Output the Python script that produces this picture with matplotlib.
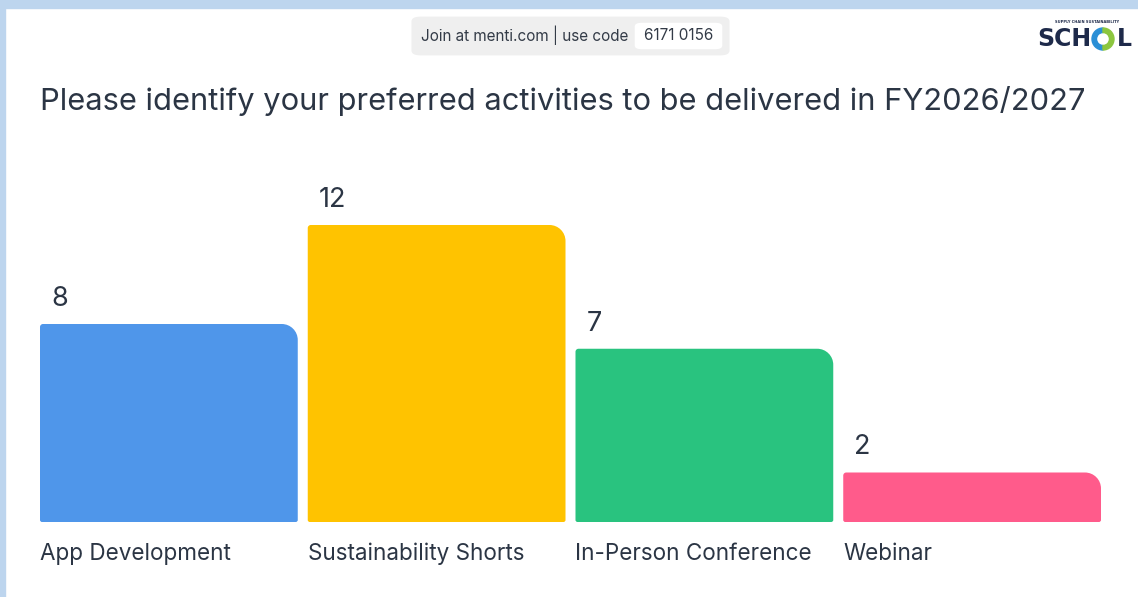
import matplotlib
matplotlib.use("Agg")
import matplotlib.pyplot as plt
from matplotlib.path import Path
from matplotlib.patches import PathPatch, FancyBboxPatch, Rectangle, Wedge

plt.rcParams['font.family'] = ['Inter', 'DejaVu Sans']

# data
categories = ["App Development", "Sustainability Shorts", "In-Person Conference", "Webinar"]
votes = [8, 12, 7, 2]
colors = ["#4f96ea", "#ffc300", "#29c37f", "#ff5b8b"]
title = "Please identify your preferred activities to be delivered in FY2026/2027"
join_text = "Join at menti.com | use code"
code_text = "6171 0156"

W, H = 1138, 597
fig = plt.figure(figsize=(W / 100, H / 100), dpi=100)
fig.patch.set_facecolor("white")


def fx(px):
    return px / W


def fy(py):
    return 1 - py / H


# light blue frame (top and left)
fig.patches.append(Rectangle((0, fy(8)), 1, 8 / H, transform=fig.transFigure,
                             color="#bdd5ee", zorder=0))
fig.patches.append(Rectangle((0, 0), fx(5), 1, transform=fig.transFigure,
                             color="#bdd5ee", zorder=0))

# header pill
fig.patches.append(FancyBboxPatch((fx(416), fy(53)), fx(309), 34 / H,
                                  boxstyle="round,pad=0.004,rounding_size=0.008",
                                  transform=fig.transFigure, fc="#efefef", ec="none"))
fig.patches.append(FancyBboxPatch((fx(637), fy(48)), fx(83), 24 / H,
                                  boxstyle="round,pad=0.002,rounding_size=0.006",
                                  transform=fig.transFigure, fc="white", ec="none"))
fig.text(fx(421), fy(35), join_text, fontsize=11, color="#333b47", va="center")
fig.text(fx(679), fy(35), code_text, fontsize=11, color="#333b47", va="center", ha="center")

# logo
fig.text(fx(1087), fy(22), "SUPPLY CHAIN SUSTAINABILITY", fontsize=2.6, color="#1e2a4a",
         ha="center", va="center", family="DejaVu Sans", weight="bold")
fig.text(fx(1037), fy(39), "SCH", fontsize=17, color="#1e2a4a", weight="black",
         va="center", family="DejaVu Sans")
fig.text(fx(1117), fy(39), "L", fontsize=17, color="#1e2a4a", weight="black",
         va="center", family="DejaVu Sans")
cx, cy = 1103 / 100, (H - 39) / 100
fig.patches.append(Wedge((cx, cy), 0.11, 90, 270, width=0.045,
                         transform=fig.dpi_scale_trans, color="#2a8fd6"))
fig.patches.append(Wedge((cx, cy), 0.11, 270, 90, width=0.045,
                         transform=fig.dpi_scale_trans, color="#8cc63f"))

# title
fig.text(fx(40), fy(101), title, fontsize=22.2, color="#2b3544", va="center")

# chart axes
ax = fig.add_axes([fx(40), fy(522), fx(1061), (522 - 225) / H])
n = len(categories)
width = 258 / 268
ax.set_xlim(-width / 2, n - 1 + width / 2)
ax.set_ylim(0, 12)
ax.axis("off")

ppx = (n - 1 + width) / 1061  # data x per pixel
ppy = 12 / 297                # data y per pixel
K = 0.5523


def bar_path(x0, x1, top, r_tl=3, r_tr=16, r_b=2):
    pts, codes = [], []
    rtlx, rtly = r_tl * ppx, r_tl * ppy
    rtrx, rtry = r_tr * ppx, r_tr * ppy
    rbx, rby = r_b * ppx, r_b * ppy
    pts += [(x0 + rbx, 0)]
    codes += [Path.MOVETO]
    pts += [(x1 - rbx, 0), (x1 - rbx + K * rbx, 0), (x1, rby - K * rby), (x1, rby)]
    codes += [Path.LINETO, Path.CURVE4, Path.CURVE4, Path.CURVE4]
    pts += [(x1, top - rtry), (x1, top - rtry + K * rtry), (x1 - rtrx + K * rtrx, top), (x1 - rtrx, top)]
    codes += [Path.LINETO, Path.CURVE4, Path.CURVE4, Path.CURVE4]
    pts += [(x0 + rtlx, top), (x0 + rtlx - K * rtlx, top), (x0, top - rtly + K * rtly), (x0, top - rtly)]
    codes += [Path.LINETO, Path.CURVE4, Path.CURVE4, Path.CURVE4]
    pts += [(x0, rby), (x0, rby - K * rby), (x0 + rbx - K * rbx, 0), (x0 + rbx, 0)]
    codes += [Path.LINETO, Path.CURVE4, Path.CURVE4, Path.CURVE4]
    pts += [(x0 + rbx, 0)]
    codes += [Path.CLOSEPOLY]
    return Path(pts, codes)


for i, (cat, v, c) in enumerate(zip(categories, votes, colors)):
    x0 = i - width / 2
    ax.add_patch(PathPatch(bar_path(x0, x0 + width, v), fc=c, ec="none"))
    ax.annotate(str(v), xy=(x0, v), xytext=(11, 25), textcoords="offset pixels",
                fontsize=19.5, color="#2b3544", va="center", ha="left", annotation_clip=False)
    ax.annotate(cat, xy=(x0, 0), xytext=(0, -32), textcoords="offset pixels",
                fontsize=16.2, color="#2b3544", va="center", ha="left", annotation_clip=False)

fig.savefig("out.png", dpi=100, facecolor="white")
